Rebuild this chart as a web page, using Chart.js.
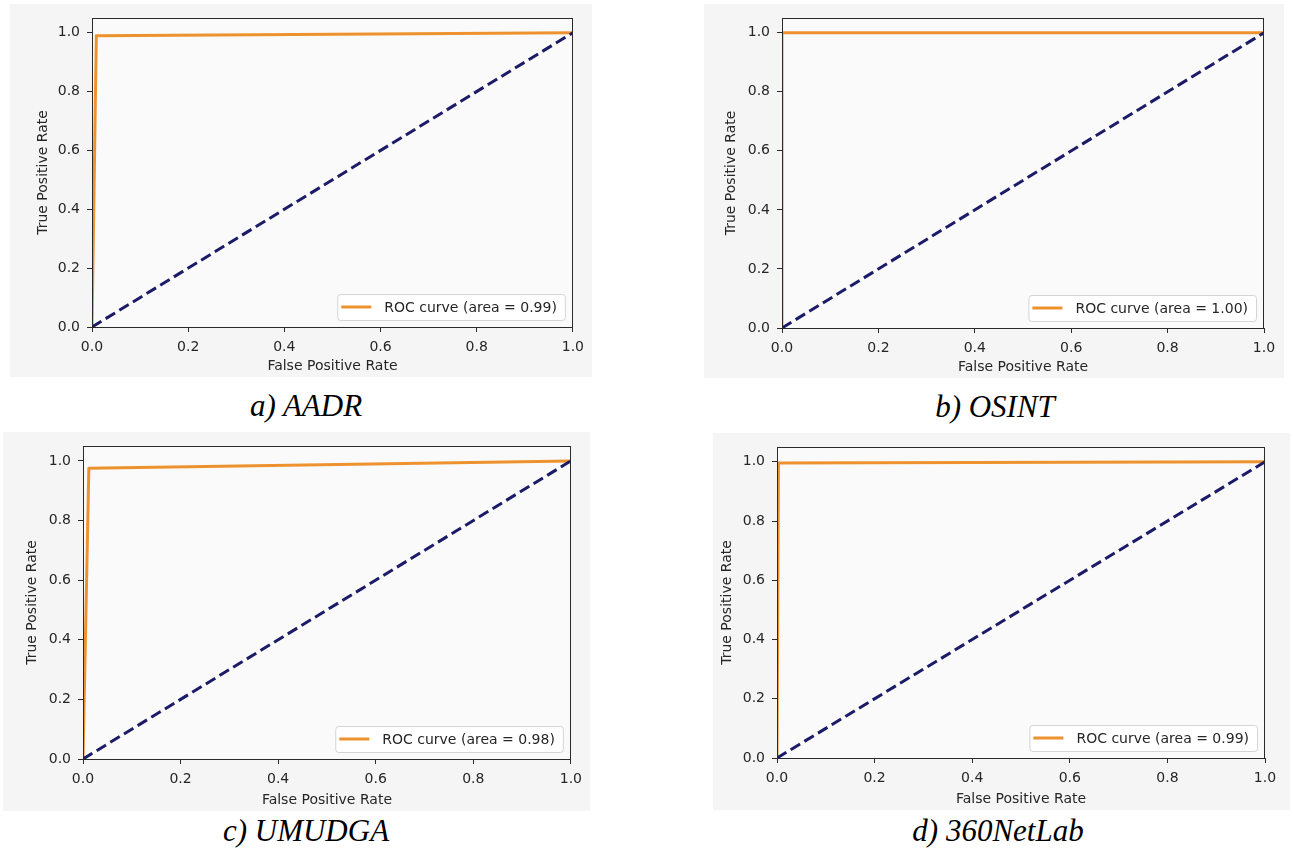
<!DOCTYPE html>
<html>
<head>
<meta charset="utf-8">
<script src="https://cdn.jsdelivr.net/npm/chart.js@4.4.0/dist/chart.umd.min.js"></script>
<style>
  body { margin: 0; background: #fff; width: 1293px; height: 858px; position: relative; overflow: hidden; }
  .panel { position: absolute; background: #f5f5f5; }
  .panel canvas { display: block; }
  .caption {
    position: absolute; width: 320px; text-align: center; line-height: 1;
    font-family: "Liberation Serif", "Times New Roman", serif; font-style: italic;
    font-size: 31px; color: #000;
  }
</style>
</head>
<body>

<script>
// ticks shared by all four ROC plots
const xTicks = [0.0, 0.2, 0.4, 0.6, 0.8, 1.0];
const yTicks = [0.0, 0.2, 0.4, 0.6, 0.8, 1.0];

// chance line
const chanceFpr = [0, 1];
const chanceTpr = [0, 1];

// roc points per dataset
const aadrFpr = [0, 0.009, 1];
const aadrTpr = [0, 0.99, 1];
const osintFpr = [0, 0, 1];
const osintTpr = [0, 1, 1];
const umudgaFpr = [0, 0.012, 1];
const umudgaTpr = [0, 0.975, 1];
const netlabFpr = [0, 0.003, 1];
const netlabTpr = [0, 0.996, 1];

const aucValues = [0.99, 1.00, 0.98, 0.99];
const captions = ["a) AADR", "b) OSINT", "c) UMUDGA", "d) 360NetLab"];

const ROC_ORANGE = "#ee922f";
const NAVY = "#1b1b68";
const AXIS = "#2a2a2a";

Chart.defaults.font.family = '"DejaVu Sans", sans-serif';
Chart.defaults.font.size = 14;
Chart.defaults.color = "#262626";

// panel boxes (figure background), plot areas and caption centres, page pixels
const layouts = [
  { bg: [10, 4, 592, 377],     plot: [92, 13, 576, 327],   yTitle: 33,   cap: [306, 406] },
  { bg: [704, 4, 1284, 378],   plot: [782, 13, 1264, 328], yTitle: 27,   cap: [995, 407] },
  { bg: [3, 432, 590, 811],    plot: [83, 440, 572, 759],  yTitle: 29,   cap: [306, 831] },
  { bg: [713, 433, 1290, 810], plot: [777, 440, 1265, 758], yTitle: 14,  cap: [998, 831] },
];

const rocCurves = [
  [aadrFpr, aadrTpr],
  [osintFpr, osintTpr],
  [umudgaFpr, umudgaTpr],
  [netlabFpr, netlabTpr],
];

// plot background, matplotlib-style frame and lower-right legend
const rocFrame = {
  id: "rocFrame",
  beforeDraw(chart) {
    const { ctx, chartArea: a } = chart;
    ctx.save();
    ctx.fillStyle = "#fafafa";
    ctx.fillRect(a.left, a.top, a.right - a.left, a.bottom - a.top);
    ctx.restore();
  },
  afterDatasetsDraw(chart) {
    const { ctx, chartArea: a } = chart;
    ctx.save();
    ctx.strokeStyle = AXIS;
    ctx.lineWidth = 1;
    ctx.strokeRect(Math.round(a.left) + 0.5, Math.round(a.top) + 0.5,
      Math.round(a.right - a.left) - 1, Math.round(a.bottom - a.top));
    ctx.restore();
  },
  afterDraw(chart) {
    const { ctx, chartArea: a } = chart;
    const ds = chart.data.datasets.find(d => d.label);
    ctx.save();
    ctx.font = '14px "DejaVu Sans"';
    const tw = ctx.measureText(ds.label).width;
    const h = 26;
    const w = 55 + tw;
    const right = a.right - 8;
    const bottom = a.bottom - 7;
    const left = right - w;
    const top = bottom - h;
    ctx.beginPath();
    ctx.roundRect(left + 0.5, top + 0.5, w, h, 3);
    ctx.fillStyle = "rgba(255,255,255,0.85)";
    ctx.fill();
    ctx.strokeStyle = "#d4d4d4";
    ctx.lineWidth = 1;
    ctx.stroke();
    const cy = top + h / 2;
    ctx.beginPath();
    ctx.moveTo(left + 4, cy);
    ctx.lineTo(left + 34, cy);
    ctx.strokeStyle = ds.borderColor;
    ctx.lineWidth = 3;
    ctx.stroke();
    ctx.fillStyle = "#262626";
    ctx.textBaseline = "middle";
    ctx.fillText(ds.label, left + 47, cy + 1);
    ctx.restore();
  }
};

function axisOptions(title, ticks, max, size, tickPad, titlePad) {
  return {
    type: "linear",
    min: 0,
    max: max,
    afterBuildTicks: s => { s.ticks = ticks.map(v => ({ value: v })); },
    afterFit: s => { if (s.isHorizontal()) s.height = size; else s.width = size; },
    ticks: { callback: v => v.toFixed(1), padding: tickPad, font: { size: 14, lineHeight: 1 } },
    grid: { display: true, drawOnChartArea: false, drawTicks: true, tickLength: 5, tickColor: AXIS },
    border: { display: true, color: AXIS, width: 1 },
    title: { display: true, text: title, font: { size: 14, lineHeight: 1.2 }, padding: titlePad },
  };
}

layouts.forEach((L, i) => {
  const [bl, bt, br, bb] = L.bg;
  const [pl, pt, pr, pb] = L.plot;

  const panel = document.createElement("div");
  panel.className = "panel";
  panel.style.left = bl + "px";
  panel.style.top = bt + "px";
  const canvas = document.createElement("canvas");
  canvas.width = br - bl;
  canvas.height = bb - bt;
  canvas.style.width = (br - bl) + "px";
  canvas.style.height = (bb - bt) + "px";
  panel.appendChild(canvas);
  document.body.appendChild(panel);

  const cap = document.createElement("div");
  cap.className = "caption";
  cap.textContent = captions[i];
  cap.style.left = (L.cap[0] - 160) + "px";
  cap.style.top = (L.cap[1] - 16) + "px";
  document.body.appendChild(cap);

  const [fpr, tpr] = rocCurves[i];

  new Chart(canvas, {
    type: "line",
    data: {
      datasets: [
        {
          label: `ROC curve (area = ${aucValues[i].toFixed(2)})`,
          data: fpr.map((x, k) => ({ x: x, y: tpr[k] })),
          borderColor: ROC_ORANGE,
          borderWidth: 3,
          borderJoinStyle: "round",
          pointRadius: 0,
          tension: 0,
          order: 1,
        },
        {
          data: chanceFpr.map((x, k) => ({ x: x, y: chanceTpr[k] })),
          borderColor: NAVY,
          borderWidth: 3,
          borderDash: [11, 5],
          pointRadius: 0,
          tension: 0,
          order: 0,
        },
      ],
    },
    options: {
      responsive: false,
      animation: false,
      devicePixelRatio: 1,
      layout: { padding: { left: 0, top: pt - bt, right: br - pr, bottom: 0 } },
      plugins: { legend: { display: false }, tooltip: { enabled: false } },
      scales: {
        x: axisOptions("False Positive Rate", xTicks, 1, bb - pb, 8, { top: 0, bottom: 2 }),
        y: axisOptions("True Positive Rate", yTicks, 1.05, pl - bl, 7, { top: L.yTitle - 8.4, bottom: 0 }),
      },
    },
    plugins: [rocFrame],
  });
});
</script>
</body>
</html>
